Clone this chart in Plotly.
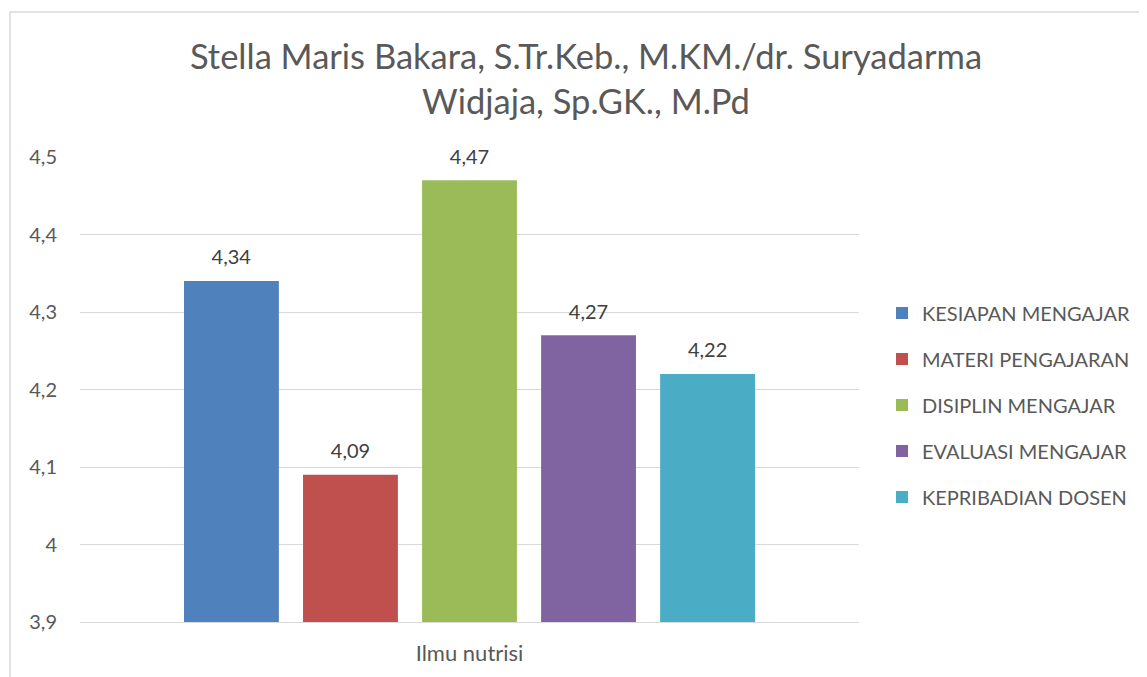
import plotly.graph_objects as go

categories = ["Ilmu nutrisi"]
series_names = ["KESIAPAN MENGAJAR", "MATERI PENGAJARAN", "DISIPLIN MENGAJAR",
                "EVALUASI MENGAJAR", "KEPRIBADIAN DOSEN"]
series_values = [[4.34], [4.09], [4.47], [4.27], [4.22]]
colors = ["#4F81BD", "#C0504D", "#9BBB59", "#8064A2", "#4BACC6"]
y_ticks = [3.9, 4.0, 4.1, 4.2, 4.3, 4.4, 4.5]
y_tick_labels = ["3,9", "4", "4,1", "4,2", "4,3", "4,4", "4,5"]
title_text = "Stella Maris Bakara, S.Tr.Keb., M.KM./dr. Suryadarma<br>Widjaja, Sp.GK., M.Pd"

FONT = "Lato"
OFF = 8  # page body margin
W, H = 1147 - OFF, 677 - OFF
ML, MT = 80 - OFF, 157 - OFF
pw, ph = 779, 465
MR, MB = W - ML - pw, H - MT - ph

fig = go.Figure()
for i, (name, vals, col) in enumerate(zip(series_names, series_values, colors)):
    fig.add_trace(go.Bar(
        x=categories, y=vals, name=name, marker=dict(color=col, line=dict(width=0)),
        text=["<span style='font-size:20px'>" + f"{v:.2f}".replace(".", ",") + "</span><br> "
              for v in vals],
        textposition="outside", textfont=dict(family=FONT, size=9, color="#404040"),
        cliponaxis=False, legendgroup=f"g{i}",
    ))

fig.update_layout(
    width=W, height=H, paper_bgcolor="white", plot_bgcolor="white",
    margin=dict(l=ML, r=MR, t=MT, b=MB, autoexpand=False),
    barmode="group", bargap=0.236, bargroupgap=0.203,
    title=dict(text=title_text, x=(586 - OFF) / W, xanchor="center", y=1 - 61 / H, yanchor="top",
               font=dict(family=FONT, size=34.5, color="#595959")),
    showlegend=True,
    legend=dict(x=(882 - OFF - ML) / pw, xanchor="left", y=(622 - 405) / ph, yanchor="middle",
                tracegroupgap=17,
                font=dict(family=FONT, size=20, color="#595959"), bgcolor="rgba(0,0,0,0)"),
    yaxis=dict(range=[3.9, 4.5], tickvals=y_ticks, ticktext=y_tick_labels,
               showgrid=True, gridcolor="#d9d9d9", gridwidth=1, zeroline=False,
               tickfont=dict(family=FONT, size=20, color="#595959"), ticklabelstandoff=22),
    xaxis=dict(showline=True, linecolor="#d9d9d9", linewidth=1, ticks="",
               tickfont=dict(family=FONT, size=22, color="#595959"), ticklabelstandoff=12),
    shapes=[dict(type="rect", xref="paper", yref="paper",
                 x0=(10 - 80) / pw, x1=(1147 + 20 - 80) / pw,
                 y0=(622 - 700) / ph, y1=(622 - 12) / ph,
                 line=dict(color="#d9d9d9", width=1.5), fillcolor="rgba(0,0,0,0)", layer="below")],
)

fig.write_html("out.html")
